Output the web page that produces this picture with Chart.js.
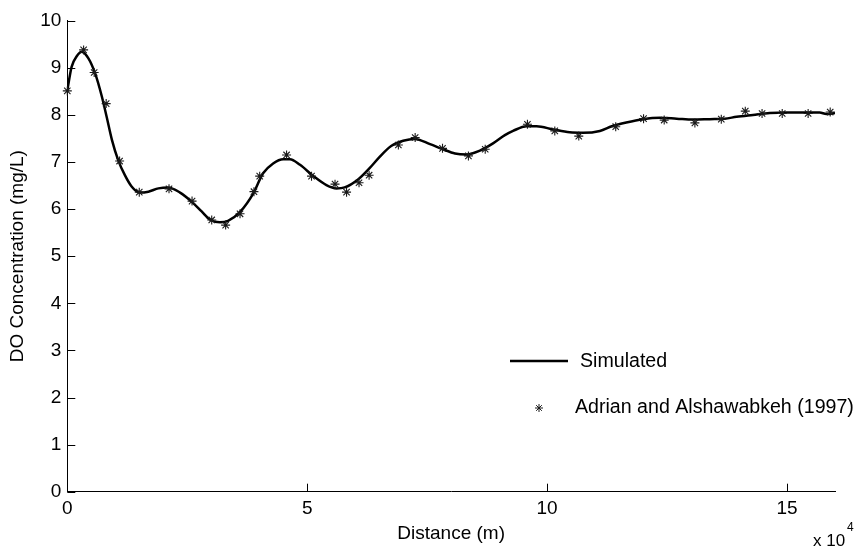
<!DOCTYPE html>
<html>
<head>
<meta charset="utf-8">
<script src="https://cdn.jsdelivr.net/npm/chart.js@4.4.1/dist/chart.umd.min.js"></script>
<style>
html,body{margin:0;padding:0;background:#fff;}
#wrap{width:858px;height:547px;position:relative;}
</style>
</head>
<body>
<div id="wrap"><canvas id="c" width="858" height="547"></canvas></div>
<script>
// Distance in units of 1e4 m
const simDistance = [0,0.09,0.2,0.3,0.44,0.58,0.72,0.82,0.93,1.06,1.2,1.34,1.51,1.69,1.9,2.1,2.35,2.59,2.8,2.97,3.18,3.35,3.6,3.88,4.08,4.29,4.5,4.64,4.85,5.13,5.4,5.61,5.78,6.06,6.3,6.51,6.75,7.0,7.24,7.56,7.83,8.08,8.32,8.6,8.88,9.12,9.29,9.57,9.78,10.13,10.47,10.75,11.1,11.35,11.65,12.0,12.35,12.7,13.04,13.39,13.7,13.95,14.29,14.64,14.99,15.33,15.68,15.82,16.0];
const simDO = [8.52,9.02,9.25,9.34,9.2,8.88,8.39,7.96,7.47,7.04,6.72,6.48,6.35,6.37,6.44,6.46,6.35,6.16,5.95,5.78,5.72,5.75,5.94,6.34,6.76,6.97,7.06,7.06,6.94,6.70,6.51,6.44,6.46,6.63,6.87,7.11,7.34,7.45,7.49,7.38,7.27,7.18,7.16,7.24,7.40,7.57,7.66,7.76,7.76,7.69,7.63,7.62,7.66,7.76,7.84,7.91,7.94,7.92,7.90,7.91,7.92,7.96,8.0,8.04,8.05,8.05,8.05,8.02,8.04];
const obsDistance = [0,0.34,0.56,0.81,1.09,1.50,2.12,2.60,3.01,3.30,3.60,3.89,4.01,4.57,5.09,5.58,5.82,6.08,6.29,6.90,7.25,7.82,8.36,8.71,9.59,10.16,10.66,11.43,12.01,12.44,13.08,13.63,14.13,14.48,14.90,15.44,15.90];
const obsDO = [8.51,9.38,8.90,8.24,7.02,6.36,6.43,6.17,5.77,5.66,5.90,6.37,6.70,7.15,6.70,6.53,6.36,6.56,6.72,7.36,7.52,7.29,7.13,7.27,7.80,7.66,7.55,7.75,7.92,7.89,7.83,7.91,8.08,8.03,8.03,8.03,8.06];
const xTickLabels = ['0','5','10','15'];
const yTickLabels = ['0','1','2','3','4','5','6','7','8','9','10'];
const seriesNames = ['Simulated','Adrian and Alshawabkeh (1997)'];
const xTitle = 'Distance (m)';
const yTitle = 'DO Concentration (mg/L)';
const xExponent = '4';

const FONT = "'Liberation Sans', Arial, sans-serif";
Chart.defaults.font.family = FONT;
Chart.defaults.color = '#000';

const simData = simDistance.map((x,i)=>({x:x,y:simDO[i]}));
const obsData = obsDistance.map((x,i)=>({x:x,y:obsDO[i]}));

const innerTicks = {
  id:'innerTicks',
  afterDatasetsDraw(chart){
    const ctx = chart.ctx;
    const xs = chart.scales.x, ys = chart.scales.y;
    const a = chart.chartArea;
    ctx.save();
    ctx.strokeStyle = '#000';
    ctx.lineWidth = 1;
    ctx.beginPath();
    xs.ticks.forEach(t=>{
      const px = Math.round(xs.getPixelForValue(t.value))+0.5;
      ctx.moveTo(px, a.bottom);
      ctx.lineTo(px, a.bottom-8);
    });
    ys.ticks.forEach(t=>{
      const py = Math.round(ys.getPixelForValue(t.value))+0.5;
      ctx.moveTo(a.left, py);
      ctx.lineTo(a.left+8, py);
    });
    ctx.stroke();
    ctx.restore();
  },
  afterDraw(chart){
    const ctx = chart.ctx;
    const lineDs = chart.data.datasets[1];
    const ptDs = chart.data.datasets[0];
    ctx.save();
    // legend
    ctx.strokeStyle = lineDs.borderColor;
    ctx.lineWidth = lineDs.borderWidth;
    ctx.beginPath();
    ctx.moveTo(510, 361);
    ctx.lineTo(568, 361);
    ctx.stroke();
    ctx.font = '19.6px ' + FONT;
    ctx.fillStyle = '#000';
    ctx.textBaseline = 'middle';
    ctx.textAlign = 'left';
    ctx.fillText(lineDs.label, 580, 362);
    ctx.lineWidth = 1;
    ctx.strokeStyle = ptDs.borderColor;
    Chart.helpers.drawPoint(ctx, {pointStyle:'star', radius:4, borderWidth:1}, 539, 408);
    ctx.fillText(ptDs.label, 575, 408);
    // exponent label
    ctx.textBaseline = 'alphabetic';
    ctx.font = '17px ' + FONT;
    ctx.fillText('x 10', 813, 546);
    ctx.font = '12px ' + FONT;
    ctx.fillText(xExponent, 847, 531);
    ctx.restore();
  }
};

new Chart(document.getElementById('c'), {
  type: 'scatter',
  data: {
    datasets: [
      {
        label: seriesNames[1],
        data: obsData,
        showLine: false,
        clip: false,
        pointStyle: 'star',
        pointRadius: 4.5,
        pointBorderWidth: 1.1,
        borderColor: '#1a1a1a',
        backgroundColor: 'rgba(0,0,0,0)',
        pointHoverRadius: 4.5
      },
      {
        label: seriesNames[0],
        data: simData,
        showLine: true,
        borderColor: '#000',
        borderWidth: 2.5,
        pointRadius: 0,
        pointHoverRadius: 0,
        cubicInterpolationMode: 'monotone',
        fill: false
      }
    ]
  },
  options: {
    responsive: false,
    animation: false,
    devicePixelRatio: 1,
    layout: { padding: { top: 20.7, right: 23, bottom: 0, left: 0 } },
    plugins: { legend: { display: false }, tooltip: { enabled: false } },
    scales: {
      x: {
        type: 'linear',
        min: 0, max: 16,
        grid: { display: false, drawTicks: false, tickLength: 0 },
        border: { display: true, color: '#000', width: 1 },
        ticks: {
          stepSize: 5,
          includeBounds: false,
          padding: 6,
          maxRotation: 0,
          font: { size: 19 },
          color: '#000',
          callback: (v)=> xTickLabels.includes(String(v)) ? String(v) : ''
        },
        title: { display: true, text: xTitle, font: { size: 19 }, color: '#000', padding: { top: 0, bottom: 1.5 } },
        afterFit: (s)=>{ s.height = 55.3; }
      },
      y: {
        type: 'linear',
        min: 0, max: 10,
        grid: { display: false, drawTicks: false, tickLength: 0 },
        border: { display: true, color: '#000', width: 1 },
        ticks: {
          stepSize: 1,
          padding: 6,
          font: { size: 19 },
          color: '#000',
          callback: (v)=> yTickLabels.includes(String(v)) ? String(v) : ''
        },
        title: { display: true, text: yTitle, font: { size: 19 }, color: '#000', padding: { top: 6.6, bottom: 0 } },
        afterFit: (s)=>{ s.width = 67.3; }
      }
    }
  },
  plugins: [innerTicks]
});
</script>
</body>
</html>
